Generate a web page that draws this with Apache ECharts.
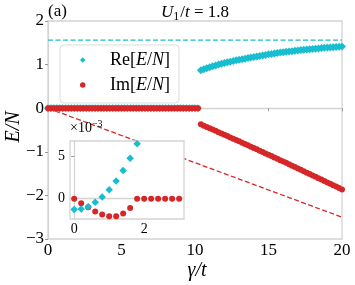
<!DOCTYPE html>
<html>
<head>
<meta charset="utf-8">
<script src="https://cdn.jsdelivr.net/npm/echarts@6/dist/echarts.min.js"></script>
<style>html,body{margin:0;padding:0;background:#fff}#c{width:355px;height:285px}</style>
</head>
<body>
<div id="c"></div>
<script>
// ---- data ----
const gamma = [
  0,0.2,0.4,0.6,0.8,1,1.2,1.4,1.6,1.8,
  2,2.2,2.4,2.6,2.8,3,3.2,3.4,3.6,3.8,
  4,4.2,4.4,4.6,4.8,5,5.2,5.4,5.6,5.8,
  6,6.2,6.4,6.6,6.8,7,7.2,7.4,7.6,7.8,
  8,8.2,8.4,8.6,8.8,9,9.2,9.4,9.6,9.8,
  10,10.2,10.4,10.6,10.8,11,11.2,11.4,11.6,11.8,
  12,12.2,12.4,12.6,12.8,13,13.2,13.4,13.6,13.8,
  14,14.2,14.4,14.6,14.8,15,15.2,15.4,15.6,15.8,
  16,16.2,16.4,16.6,16.8,17,17.2,17.4,17.6,17.8,
  18,18.2,18.4,18.6,18.8,19,19.2,19.4,19.6,19.8,
  20
];
const reE = [
  0,0,0,0,0,0,0,0,0,0,
  0,0,0,0,0,0,0,0,0,0,
  0,0,0,0,0,0,0,0,0,0,
  0,0,0,0,0,0,0,0,0,0,
  0,0,0,0,0,0,0,0,0,0,
  0,0,0.870,0.895,0.918,0.940,0.962,0.982,1.001,1.020,
  1.038,1.053,1.068,1.083,1.097,1.110,1.124,1.137,1.150,1.163,
  1.175,1.187,1.199,1.211,1.223,1.235,1.245,1.255,1.265,1.275,
  1.285,1.293,1.301,1.309,1.317,1.325,1.332,1.339,1.346,1.353,
  1.360,1.366,1.372,1.378,1.384,1.390,1.395,1.400,1.405,1.410,
  1.415
];
const imE = [
  0,0,0,0,0,0,0,0,0,0,
  0,0,0,0,0,0,0,0,0,0,
  0,0,0,0,0,0,0,0,0,0,
  0,0,0,0,0,0,0,0,0,0,
  0,0,0,0,0,0,0,0,0,0,
  0,0,-0.370,-0.400,-0.430,-0.460,-0.490,-0.520,-0.550,-0.580,
  -0.610,-0.640,-0.670,-0.700,-0.730,-0.760,-0.790,-0.820,-0.851,-0.882,
  -0.913,-0.944,-0.975,-1.006,-1.037,-1.068,-1.099,-1.130,-1.161,-1.192,
  -1.223,-1.254,-1.286,-1.318,-1.350,-1.382,-1.414,-1.446,-1.478,-1.510,
  -1.542,-1.574,-1.606,-1.638,-1.670,-1.702,-1.734,-1.766,-1.798,-1.830,
  -1.862
];
const reLimit = [[0, 1.56], [20, 1.56]];
const imLimit = [[0, 0], [20, -2.5]];

const insetX  = [0,0.2,0.4,0.6,0.8,1.0,1.2,1.4,1.6,1.8,2.0,2.2,2.4,2.6,2.8,3.0];
const insetRe = [-1.26,-1.21,-0.95,-0.42,0.21,1.05,2.08,3.30,4.75,6.43];
const insetIm = [0,-0.52,-1.0,-1.5,-1.85,-2.06,-2.05,-1.73,-1.09,0,0,0,0,0,0,0];

const xTicks = [0, 5, 10, 15, 20];
const yTicks = [-3, -2, -1, 0, 1, 2];
const insetXTicks = [0, 2];
const insetYTicks = [0, 5];

// ---- chart ----
const CYAN = '#17becf', RED = '#d62728', FRAME = '#d4d4d4';
const SERIF = "'Liberation Serif', 'DejaVu Serif', serif";
const fmt = v => (v < 0 ? '\u2212' + Math.abs(v) : String(v));
const pairs = (xs, ys) => ys.map((y, i) => [xs[i], y]);

const chart = echarts.init(document.getElementById('c'), null, {renderer: 'canvas'});
chart.setOption({
  animation: false,
  backgroundColor: '#fff',
  grid: [
    {left: 48, top: 21, width: 294, height: 218, show: true, borderColor: FRAME, borderWidth: 1.3,
     backgroundColor: 'transparent', outerBoundsMode: 'none', containLabel: false},
    {left: 70, top: 141, width: 114, height: 78, show: true, borderColor: FRAME, borderWidth: 1.3,
     backgroundColor: '#fff', z: 10, outerBoundsMode: 'none', containLabel: false}
  ],
  xAxis: [
    {gridIndex: 0, type: 'value', min: xTicks[0], max: xTicks[xTicks.length - 1], interval: 5,
     axisLine: {show: true, lineStyle: {color: FRAME, width: 1.3}},
     axisTick: {show: true, length: 3, lineStyle: {color: '#999'}},
     axisLabel: {color: '#000', fontFamily: SERIF, fontSize: 17, margin: 3, formatter: fmt},
     splitLine: {show: false}},
    {gridIndex: 1, type: 'value', min: -0.12, max: 3.14, z: 11,
     axisLine: {show: true, lineStyle: {color: FRAME, width: 1.3}},
     axisTick: {show: true, length: 3, customValues: insetXTicks, lineStyle: {color: '#999'}},
     axisLabel: {color: '#000', fontFamily: SERIF, fontSize: 14, margin: 3, customValues: insetXTicks, formatter: fmt},
     splitLine: {show: false}}
  ],
  yAxis: [
    {gridIndex: 0, type: 'value', min: yTicks[0], max: yTicks[yTicks.length - 1], interval: 1,
     axisLine: {show: true, lineStyle: {color: FRAME, width: 1.3}},
     axisTick: {show: true, length: 3, lineStyle: {color: '#999'}},
     axisLabel: {color: '#000', fontFamily: SERIF, fontSize: 17, margin: 4, formatter: fmt},
     splitLine: {show: false}},
    {gridIndex: 1, type: 'value', min: -2.38, max: 6.76, z: 11,
     axisLine: {show: true, lineStyle: {color: FRAME, width: 1.3}},
     axisTick: {show: true, length: 3, customValues: insetYTicks, lineStyle: {color: '#999'}},
     axisLabel: {color: '#000', fontFamily: SERIF, fontSize: 14, margin: 5, customValues: insetYTicks, formatter: fmt},
     splitLine: {show: false}}
  ],
  legend: {
    data: ['Re', 'Im'], orient: 'vertical', left: 60, top: 45,
    padding: [4, 9, 7, 20], itemGap: 3, itemWidth: 5.5, itemHeight: 5.5,
    backgroundColor: 'rgba(255,255,255,0.85)', borderColor: '#dcdcdc', borderWidth: 1, borderRadius: 4,
    selectedMode: false, z: 6,
    formatter: n => '{w|}' + n + '[{i|E}/{i|N}]',
    textStyle: {color: '#000', fontFamily: SERIF, fontSize: 18, lineHeight: 22,
      rich: {
        w: {width: 19.5, fontSize: 18, lineHeight: 22},
        i: {fontFamily: SERIF, fontStyle: 'italic', fontSize: 18, color: '#000', lineHeight: 22}
      }}
  },
  series: [
    {type: 'line', xAxisIndex: 0, yAxisIndex: 0, data: reLimit, symbol: 'none', z: 2, silent: true,
     lineStyle: {color: CYAN, width: 1.3, type: [5, 2.5]}},
    {type: 'line', xAxisIndex: 0, yAxisIndex: 0, data: imLimit, symbol: 'none', z: 2, silent: true,
     lineStyle: {color: RED, width: 1.3, type: [5, 2.5]}},
    {name: 'Re', type: 'scatter', xAxisIndex: 0, yAxisIndex: 0, data: pairs(gamma, reE),
     symbol: 'diamond', symbolSize: 8, itemStyle: {color: CYAN, opacity: 1}, z: 3},
    {name: 'Im', type: 'scatter', xAxisIndex: 0, yAxisIndex: 0, data: pairs(gamma, imE),
     symbol: 'circle', symbolSize: 6, itemStyle: {color: RED, opacity: 1}, z: 4},
    {name: 'insetIm', type: 'scatter', xAxisIndex: 1, yAxisIndex: 1, data: pairs(insetX, insetIm),
     symbol: 'circle', symbolSize: 6, itemStyle: {color: RED, opacity: 1}, z: 12},
    {name: 'insetRe', type: 'scatter', xAxisIndex: 1, yAxisIndex: 1, data: pairs(insetX, insetRe),
     symbol: 'diamond', symbolSize: 7.5, itemStyle: {color: CYAN, opacity: 1}, z: 13}
  ],
  graphic: [
    {type: 'text', left: 48, top: 3, z: 20,
     style: {text: '(a)', font: "17px " + SERIF, fill: '#000'}},
    {type: 'text', x: 195, y: 13, z: 20,
     style: {text: '{i|U}{s|1}{n|/}{i|t}{n| = 1.8}', fill: '#000', align: 'center', verticalAlign: 'middle',
       rich: {
         i: {fontFamily: SERIF, fontStyle: 'italic', fontSize: 17, lineHeight: 20, fill: '#000'},
         n: {fontFamily: SERIF, fontSize: 17, lineHeight: 20, fill: '#000'},
         s: {fontFamily: SERIF, fontSize: 12, lineHeight: 20, padding: [7, 1, 0, 0], fill: '#000'}
       }}},
    {type: 'text', x: 14, y: 127, rotation: Math.PI / 2, z: 20,
     style: {text: 'E/N', font: "italic 20px " + SERIF, fill: '#000', align: 'center', verticalAlign: 'middle'}},
    {type: 'text', x: 197, y: 271, z: 20,
     style: {text: '\u03b3/t', font: "italic 20px " + SERIF, fill: '#000', align: 'center', verticalAlign: 'middle'}},
    {type: 'text', x: 70, y: 128, z: 20,
     style: {text: '{n|\u00d710}{p|\u22123}', fill: '#000', align: 'left', verticalAlign: 'middle',
       rich: {
         n: {fontFamily: SERIF, fontSize: 14, lineHeight: 16, fill: '#000'},
         p: {fontFamily: SERIF, fontSize: 10, lineHeight: 16, padding: [0, 0, 7, 0], fill: '#000'}
       }}}
  ]
});
</script>
</body>
</html>
